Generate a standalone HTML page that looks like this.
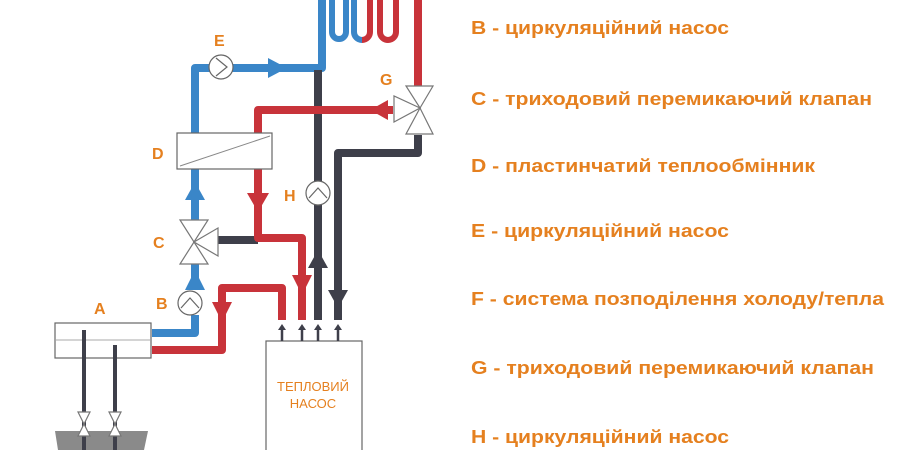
<!DOCTYPE html>
<html><head><meta charset="utf-8"><style>
html,body{margin:0;padding:0;background:#fff;}
svg{display:block}
.t{font-family:"Liberation Sans",sans-serif;font-weight:bold;fill:#e5801f;font-size:18px}
.l{font-family:"Liberation Sans",sans-serif;font-weight:bold;fill:#e5801f;font-size:16px}
</style></head><body>
<svg width="900" height="450" viewBox="0 0 900 450" xmlns="http://www.w3.org/2000/svg">
<g fill="none" stroke-width="8" stroke-linejoin="round">
<path d="M322 0 V68 H195 V133" stroke="#3a86c8"/>
<path d="M332 0 V32 a7 7 0 0 0 14 0 V0" stroke="#3a86c8" stroke-width="6"/>
<path d="M354 0 V32 a8 8 0 0 0 8 8" stroke="#3a86c8" stroke-width="6"/>
<path d="M362 40 a8 8 0 0 0 8 -8 V0" stroke="#c8333a" stroke-width="6"/>
<path d="M380 0 V32 a8 8 0 0 0 16 0 V0" stroke="#c8333a" stroke-width="6"/>
<path d="M418 0 V88" stroke="#c8333a"/>
<path d="M318 70 V320" stroke="#3e3f4a"/>
<path d="M418 135 V153 H338 V320" stroke="#3e3f4a"/>
<path d="M215 240 H258" stroke="#3e3f4a"/>
<path d="M393 110 H258 V133" stroke="#c8333a"/>
<path d="M258 169 V238 H302 V320" stroke="#c8333a"/>
<path d="M195 169 V228 M195 252 V290 M195 315 V333 H152" stroke="#3a86c8"/>
<path d="M152 350 H222 V288 H282 V320" stroke="#c8333a"/>
<path d="M84 330 V450 M115 345 V450" stroke="#3e3f4a" stroke-width="4"/>
</g>
<polygon points="268,58 287,68 268,78" fill="#3a86c8"/>
<polygon points="185,200 195,182 205,200" fill="#3a86c8"/>
<polygon points="185,290 195,270 205,290" fill="#3a86c8"/>
<polygon points="388,100 370,110 388,120" fill="#c8333a"/>
<polygon points="247,193 258,212 269,193" fill="#c8333a"/>
<polygon points="212,302 222,322 232,302" fill="#c8333a"/>
<polygon points="292,275 302,295 312,275" fill="#c8333a"/>
<polygon points="308,268 318,250 328,268" fill="#3e3f4a"/>
<polygon points="328,290 338,308 348,290" fill="#3e3f4a"/>
<g fill="#fff" stroke="#666" stroke-width="1.2">
<circle cx="221" cy="67" r="12"/><circle cx="318" cy="193" r="12"/><circle cx="190" cy="303" r="12"/>
</g>
<g fill="none" stroke="#666" stroke-width="1.2">
<path d="M216 58 L227 67 L216 76"/><path d="M309 198 L318 188 L327 198"/><path d="M181 308 L190 298 L199 308"/>
</g>
<rect x="177" y="133" width="95" height="36" fill="#fff" stroke="#666" stroke-width="1.2"/>
<line x1="180" y1="166" x2="270" y2="136" stroke="#888"/>
<rect x="55" y="323" width="96" height="35" fill="#fff" stroke="#666" stroke-width="1.2"/>
<line x1="56" y1="340" x2="150" y2="340" stroke="#aaa"/>
<path d="M84 330 V358 M115 345 V358" stroke="#3e3f4a" stroke-width="4"/>
<polygon points="55,431 148,431 144,450 58,450" fill="#8a8a8a"/>
<path d="M84 358 V450 M115 358 V450" stroke="#3e3f4a" stroke-width="4"/>
<g fill="#fff" stroke="#777" stroke-width="1.2">
<polygon points="406,86 433,86 420,108"/><polygon points="406,134 433,134 420,108"/><polygon points="394,96 394,122 420,108"/>
<polygon points="180,220 208,220 194,242"/><polygon points="180,264 208,264 194,242"/><polygon points="218,228 218,256 194,242"/>
<polygon points="78,412 90,412 84,424"/><polygon points="78,436 90,436 84,424"/>
<polygon points="109,412 121,412 115,424"/><polygon points="109,436 121,436 115,424"/>
</g>
<rect x="266" y="341" width="96" height="112" fill="#fff" stroke="#666" stroke-width="1.2"/>
<g stroke="#3e3f4a" stroke-width="2.5">
<path d="M282 326 V341 M302 326 V341 M318 326 V341 M338 326 V341"/></g>
<g fill="#3e3f4a"><polygon points="278,330 282,324 286,330"/><polygon points="298,330 302,324 306,330"/><polygon points="314,330 318,324 322,330"/><polygon points="334,330 338,324 342,330"/></g>
<text x="313" y="391" text-anchor="middle" font-family="Liberation Sans,sans-serif" font-size="13" fill="#e5801f">ТЕПЛОВИЙ</text>
<text x="313" y="408" text-anchor="middle" font-family="Liberation Sans,sans-serif" font-size="13" fill="#e5801f">НАСОС</text>
<text class="l" x="214" y="46">E</text>
<text class="l" x="380" y="85">G</text>
<text class="l" x="152" y="159">D</text>
<text class="l" x="284" y="201">H</text>
<text class="l" x="153" y="248">C</text>
<text class="l" x="156" y="309">B</text>
<text class="l" x="94" y="314">A</text>
<text class="t" x="471" y="34" textLength="258" lengthAdjust="spacingAndGlyphs">B - циркуляційний насос</text>
<text class="t" x="471" y="105" textLength="401" lengthAdjust="spacingAndGlyphs">C - триходовий перемикаючий клапан</text>
<text class="t" x="471" y="172" textLength="344" lengthAdjust="spacingAndGlyphs">D - пластинчатий теплообмінник</text>
<text class="t" x="471" y="237" textLength="258" lengthAdjust="spacingAndGlyphs">E - циркуляційний насос</text>
<text class="t" x="471" y="305" textLength="413" lengthAdjust="spacingAndGlyphs">F - система позподілення холоду/тепла</text>
<text class="t" x="471" y="374" textLength="403" lengthAdjust="spacingAndGlyphs">G - триходовий перемикаючий клапан</text>
<text class="t" x="471" y="443" textLength="258" lengthAdjust="spacingAndGlyphs">H - циркуляційний насос</text>
</svg>
</body></html>
